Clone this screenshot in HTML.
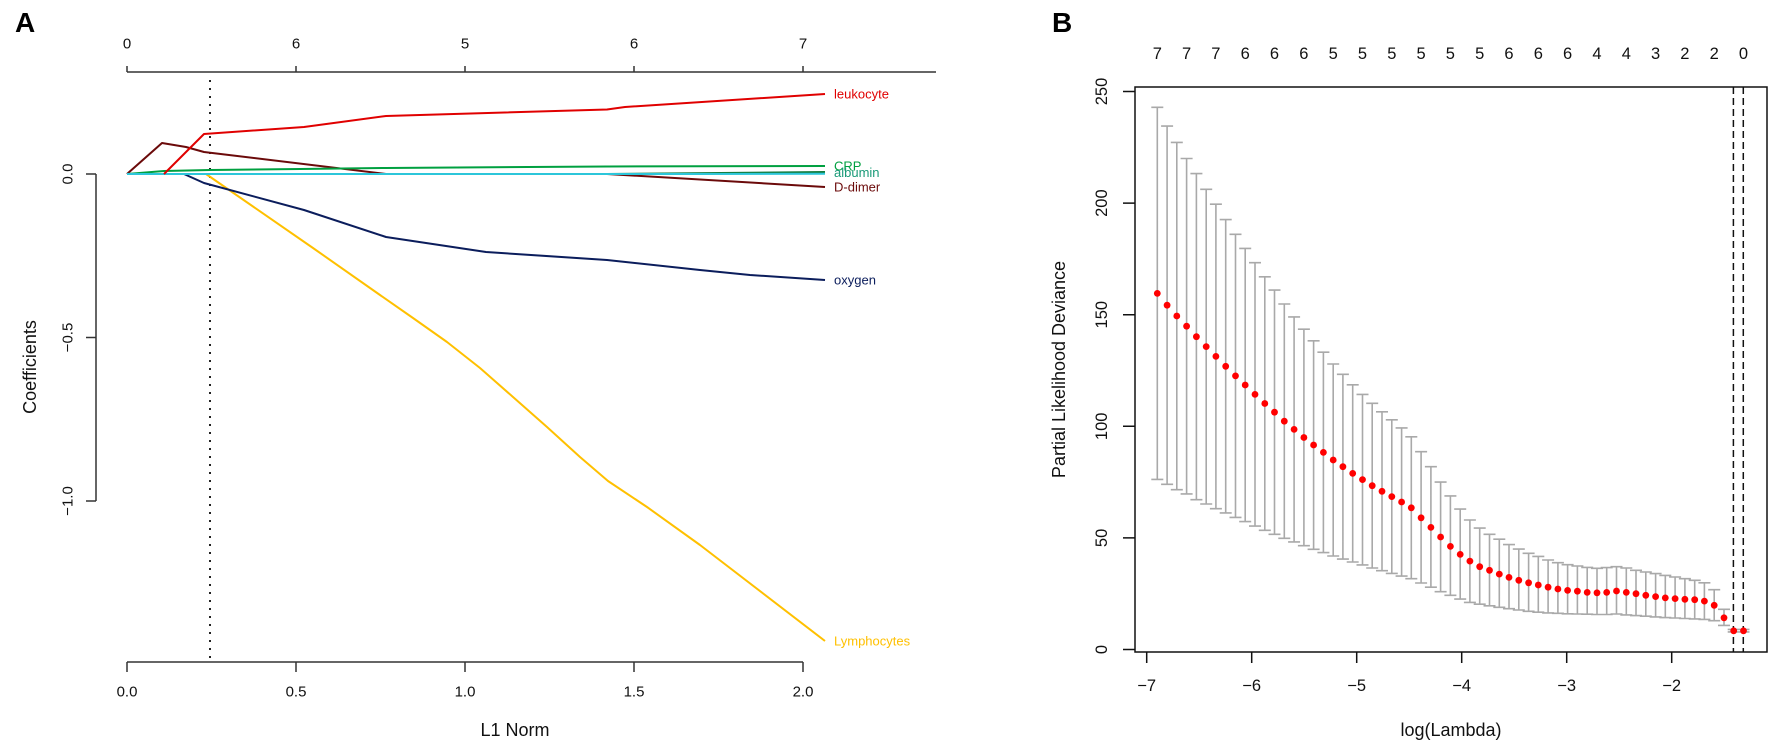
<!DOCTYPE html>
<html><head><meta charset="utf-8"><style>
html,body{margin:0;padding:0;background:#fff;}
svg{display:block;font-family:"Liberation Sans",Arial,sans-serif;}
</style></head><body>
<svg width="1772" height="742" viewBox="0 0 1772 742" xmlns="http://www.w3.org/2000/svg">
<rect width="1772" height="742" fill="#fff"/>

<!-- ================= PANEL A ================= -->
<text x="15" y="32" font-size="28" font-weight="bold" fill="#000">A</text>

<!-- top axis -->
<g stroke="#333" stroke-width="1.5" fill="none">
<path d="M127 72H936"/>
<path d="M127 72V66M296 72V66M465 72V66M634 72V66M803 72V66"/>
<!-- bottom axis -->
<path d="M127 662H803"/>
<path d="M127 662V672M296 662V672M465 662V672M634 662V672M803 662V672"/>
<!-- left axis -->
<path d="M96 174V501"/>
<path d="M86 174H96M86 337.5H96M86 501H96"/>
</g>
<g font-size="15" fill="#111" text-anchor="middle" dominant-baseline="central">
<text x="127" y="44">0</text>
<text x="296" y="44">6</text>
<text x="465" y="44">5</text>
<text x="634" y="44">6</text>
<text x="803" y="44">7</text>
<text x="127" y="692">0.0</text>
<text x="296" y="692">0.5</text>
<text x="465" y="692">1.0</text>
<text x="634" y="692">1.5</text>
<text x="803" y="692">2.0</text>
<text x="68" y="174" transform="rotate(-90 68 174)">0.0</text>
<text x="68" y="337.5" transform="rotate(-90 68 337.5)">−0.5</text>
<text x="68" y="501" transform="rotate(-90 68 501)">−1.0</text>
</g>
<g font-size="18" fill="#111" text-anchor="middle" dominant-baseline="central">
<text x="515" y="730">L1 Norm</text>
<text x="30" y="367" transform="rotate(-90 30 367)">Coefficients</text>
</g>

<!-- dotted vertical -->
<path d="M210 80V662" stroke="#222" stroke-width="2" stroke-dasharray="2 6" fill="none"/>

<!-- coefficient paths -->
<g fill="none" stroke-width="2" stroke-linejoin="round">
<polyline stroke="#FFC000" points="206,174 313,248 380,295 413,318 447,342 480,368 513,397 547,427 580,457 608,481 647,507 700,545 825,641"/>
<polyline stroke="#0B1D5C" points="127,174 184,174 204,183 304,210 386,237 486,252 607,260 700,270 750,275 825,280"/>
<polyline stroke="#6B0A0A" points="127,174 162,143 186,147 204,152 386,174 607,174 825,187"/>
<polyline stroke="#00A040" points="127,174 164,171 210,170 300,169 386,168 607,166.5 825,166"/>
<polyline stroke="#137A3A" points="127,174 607,174 825,172"/>
<polyline stroke="#2CC6DA" points="127,174 700,174 825,173.7"/>
<polyline stroke="#E00000" points="164,174 204,134 304,127 386,116 607,109.5 625,107 825,94"/>
</g>
<g font-size="13" dominant-baseline="central">
<text x="834" y="94" fill="#E00000">leukocyte</text>
<text x="834" y="166" fill="#00A040">CRP</text>
<text x="834" y="172.5" fill="#1A9A78">albumin</text>
<text x="834" y="187" fill="#6B0A0A">D-dimer</text>
<text x="834" y="280" fill="#0B1D5C">oxygen</text>
<text x="834" y="641" fill="#FFC000">Lymphocytes</text>
</g>

<!-- ================= PANEL B ================= -->
<text x="1052" y="32" font-size="28" font-weight="bold" fill="#000">B</text>

<g font-size="16.5" fill="#111" text-anchor="middle" dominant-baseline="central">
<text x="1157.3" y="54">7</text>
<text x="1186.6" y="54">7</text>
<text x="1215.9" y="54">7</text>
<text x="1245.2" y="54">6</text>
<text x="1274.5" y="54">6</text>
<text x="1303.9" y="54">6</text>
<text x="1333.2" y="54">5</text>
<text x="1362.5" y="54">5</text>
<text x="1391.8" y="54">5</text>
<text x="1421.1" y="54">5</text>
<text x="1450.4" y="54">5</text>
<text x="1479.7" y="54">5</text>
<text x="1509" y="54">6</text>
<text x="1538.3" y="54">6</text>
<text x="1567.6" y="54">6</text>
<text x="1597" y="54">4</text>
<text x="1626.3" y="54">4</text>
<text x="1655.6" y="54">3</text>
<text x="1684.9" y="54">2</text>
<text x="1714.2" y="54">2</text>
<text x="1743.5" y="54">0</text>

<text x="1146.7" y="686">−7</text>
<text x="1251.7" y="686">−6</text>
<text x="1356.7" y="686">−5</text>
<text x="1461.7" y="686">−4</text>
<text x="1566.7" y="686">−3</text>
<text x="1671.7" y="686">−2</text>

<text x="1102" y="649.5" transform="rotate(-90 1102 649.5)">0</text>
<text x="1102" y="537.9" transform="rotate(-90 1102 537.9)">50</text>
<text x="1102" y="426.3" transform="rotate(-90 1102 426.3)">100</text>
<text x="1102" y="314.7" transform="rotate(-90 1102 314.7)">150</text>
<text x="1102" y="203.1" transform="rotate(-90 1102 203.1)">200</text>
<text x="1102" y="91.5" transform="rotate(-90 1102 91.5)">250</text>
</g>
<g font-size="18" fill="#111" text-anchor="middle" dominant-baseline="central">
<text x="1451" y="730">log(Lambda)</text>
<text x="1059" y="369.5" transform="rotate(-90 1059 369.5)">Partial Likelihood Deviance</text>
</g>

<!-- axes ticks -->
<g stroke="#111" stroke-width="1.5" fill="none">
<path d="M1123 649.5H1135M1123 537.9H1135M1123 426.3H1135M1123 314.7H1135M1123 203.1H1135M1123 91.5H1135"/>
<path d="M1146.7 652V663M1251.7 652V663M1356.7 652V663M1461.7 652V663M1566.7 652V663M1671.7 652V663"/>
</g>

<!-- error bars -->
<path fill="none" stroke="#A9A9A9" stroke-width="1.6" d="
M1157.3 107.3V479.4M1151.3 107.3h12M1151.3 479.4h12
M1167.1 126.1V484.3M1161.1 126.1h12M1161.1 484.3h12
M1176.8 142.4V489.7M1170.8 142.4h12M1170.8 489.7h12
M1186.6 158.5V493.9M1180.6 158.5h12M1180.6 493.9h12
M1196.4 173.6V499.7M1190.4 173.6h12M1190.4 499.7h12
M1206.2 189.3V504M1200.2 189.3h12M1200.2 504h12
M1215.9 204.2V508.7M1209.9 204.2h12M1209.9 508.7h12
M1225.7 219.6V512.9M1219.7 219.6h12M1219.7 512.9h12
M1235.5 234.3V517.4M1229.5 234.3h12M1229.5 517.4h12
M1245.2 248.4V521.6M1239.2 248.4h12M1239.2 521.6h12
M1255 262.7V526.1M1249 262.7h12M1249 526.1h12
M1264.8 276.8V530.3M1258.8 276.8h12M1258.8 530.3h12
M1274.5 290.1V534.3M1268.5 290.1h12M1268.5 534.3h12
M1284.3 304V538.3M1278.3 304h12M1278.3 538.3h12
M1294.1 316.9V541.9M1288.1 316.9h12M1288.1 541.9h12
M1303.9 329.2V545.7M1297.9 329.2h12M1297.9 545.7h12
M1313.6 340.8V549.3M1307.6 340.8h12M1307.6 549.3h12
M1323.4 352.2V552.6M1317.4 352.2h12M1317.4 552.6h12
M1333.2 364V556M1327.2 364h12M1327.2 556h12
M1342.9 374.3V559.1M1336.9 374.3h12M1336.9 559.1h12
M1352.7 384.8V562M1346.7 384.8h12M1346.7 562h12
M1362.5 394.4V564.9M1356.5 394.4h12M1356.5 564.9h12
M1372.2 403.3V568M1366.2 403.3h12M1366.2 568h12
M1382 411.8V570.7M1376 411.8h12M1376 570.7h12
M1391.8 419.8V573.4M1385.8 419.8h12M1385.8 573.4h12
M1401.6 427.9V576.1M1395.6 427.9h12M1395.6 576.1h12
M1411.3 436.8V578.7M1405.3 436.8h12M1405.3 578.7h12
M1421.1 451.7V583M1415.1 451.7h12M1415.1 583h12
M1430.9 466.7V587.2M1424.9 466.7h12M1424.9 587.2h12
M1440.6 482.1V591.7M1434.6 482.1h12M1434.6 591.7h12
M1450.4 495.9V595.3M1444.4 495.9h12M1444.4 595.3h12
M1460.2 509.1V599.1M1454.2 509.1h12M1454.2 599.1h12
M1469.9 520V602.4M1463.9 520h12M1463.9 602.4h12
M1479.7 528.1V604.2M1473.7 528.1h12M1473.7 604.2h12
M1489.5 534.3V605.8M1483.5 534.3h12M1483.5 605.8h12
M1499.3 539.2V607.3M1493.3 539.2h12M1493.3 607.3h12
M1509 544.6V608.7M1503 544.6h12M1503 608.7h12
M1518.8 549.1V610M1512.8 549.1h12M1512.8 610h12
M1528.6 553.3V611.3M1522.6 553.3h12M1522.6 611.3h12
M1538.3 556.4V612.2M1532.3 556.4h12M1532.3 612.2h12
M1548.1 560V612.9M1542.1 560h12M1542.1 612.9h12
M1557.9 562.7V613.3M1551.9 562.7h12M1551.9 613.3h12
M1567.6 564.7V613.8M1561.6 564.7h12M1561.6 613.8h12
M1577.4 566V614M1571.4 566h12M1571.4 614h12
M1587.2 567.4V614.2M1581.2 567.4h12M1581.2 614.2h12
M1597 568.3V614.5M1591 568.3h12M1591 614.5h12
M1606.7 567.6V614.5M1600.7 567.6h12M1600.7 614.5h12
M1616.5 566.7V614M1610.5 566.7h12M1610.5 614h12
M1626.3 568V614.9M1620.3 568h12M1620.3 614.9h12
M1636 570.3V615.6M1630 570.3h12M1630 615.6h12
M1645.8 572V616.2M1639.8 572h12M1639.8 616.2h12
M1655.6 573.6V616.9M1649.6 573.6h12M1649.6 616.9h12
M1665.3 575.4V617.6M1659.3 575.4h12M1659.3 617.6h12
M1675.1 577V618M1669.1 577h12M1669.1 618h12
M1684.9 578.7V618.5M1678.9 578.7h12M1678.9 618.5h12
M1694.7 580.3V618.9M1688.7 580.3h12M1688.7 618.9h12
M1704.4 582.8V619.4M1698.4 582.8h12M1698.4 619.4h12
M1714.2 589.7V620.7M1708.2 589.7h12M1708.2 620.7h12
M1724 609.3V625.4M1718 609.3h12M1718 625.4h12
M1733.7 629.4V631.9M1727.7 629.4h12M1727.7 631.9h12
M1743.5 629.4V631.9M1737.5 629.4h12M1737.5 631.9h12"/>

<!-- dashed lambda lines -->
<path d="M1733.4 87V652M1743.3 87V652" stroke="#111" stroke-width="1.5" stroke-dasharray="7 4" fill="none"/>

<!-- mean points -->
<g fill="#FF0000">
<circle cx="1157.3" cy="293.4" r="3.4"/>
<circle cx="1167.1" cy="305.2" r="3.4"/>
<circle cx="1176.8" cy="316" r="3.4"/>
<circle cx="1186.6" cy="326.2" r="3.4"/>
<circle cx="1196.4" cy="336.7" r="3.4"/>
<circle cx="1206.2" cy="346.6" r="3.4"/>
<circle cx="1215.9" cy="356.4" r="3.4"/>
<circle cx="1225.7" cy="366.3" r="3.4"/>
<circle cx="1235.5" cy="375.9" r="3.4"/>
<circle cx="1245.2" cy="385" r="3.4"/>
<circle cx="1255" cy="394.4" r="3.4"/>
<circle cx="1264.8" cy="403.5" r="3.4"/>
<circle cx="1274.5" cy="412.2" r="3.4"/>
<circle cx="1284.3" cy="421.2" r="3.4"/>
<circle cx="1294.1" cy="429.4" r="3.4"/>
<circle cx="1303.9" cy="437.5" r="3.4"/>
<circle cx="1313.6" cy="445" r="3.4"/>
<circle cx="1323.4" cy="452.4" r="3.4"/>
<circle cx="1333.2" cy="460" r="3.4"/>
<circle cx="1342.9" cy="466.7" r="3.4"/>
<circle cx="1352.7" cy="473.4" r="3.4"/>
<circle cx="1362.5" cy="479.6" r="3.4"/>
<circle cx="1372.2" cy="485.7" r="3.4"/>
<circle cx="1382" cy="491.3" r="3.4"/>
<circle cx="1391.8" cy="496.6" r="3.4"/>
<circle cx="1401.6" cy="502" r="3.4"/>
<circle cx="1411.3" cy="507.8" r="3.4"/>
<circle cx="1421.1" cy="517.8" r="3.4"/>
<circle cx="1430.9" cy="527.4" r="3.4"/>
<circle cx="1440.6" cy="537" r="3.4"/>
<circle cx="1450.4" cy="546.4" r="3.4"/>
<circle cx="1460.2" cy="554.4" r="3.4"/>
<circle cx="1469.9" cy="561.1" r="3.4"/>
<circle cx="1479.7" cy="566.7" r="3.4"/>
<circle cx="1489.5" cy="570.3" r="3.4"/>
<circle cx="1499.3" cy="574.1" r="3.4"/>
<circle cx="1509" cy="577.4" r="3.4"/>
<circle cx="1518.8" cy="580.3" r="3.4"/>
<circle cx="1528.6" cy="582.8" r="3.4"/>
<circle cx="1538.3" cy="585" r="3.4"/>
<circle cx="1548.1" cy="587.2" r="3.4"/>
<circle cx="1557.9" cy="589" r="3.4"/>
<circle cx="1567.6" cy="590.4" r="3.4"/>
<circle cx="1577.4" cy="591.2" r="3.4"/>
<circle cx="1587.2" cy="592.4" r="3.4"/>
<circle cx="1597" cy="592.8" r="3.4"/>
<circle cx="1606.7" cy="592.4" r="3.4"/>
<circle cx="1616.5" cy="591" r="3.4"/>
<circle cx="1626.3" cy="592.4" r="3.4"/>
<circle cx="1636" cy="593.7" r="3.4"/>
<circle cx="1645.8" cy="595.3" r="3.4"/>
<circle cx="1655.6" cy="596.6" r="3.4"/>
<circle cx="1665.3" cy="597.9" r="3.4"/>
<circle cx="1675.1" cy="598.6" r="3.4"/>
<circle cx="1684.9" cy="599.3" r="3.4"/>
<circle cx="1694.7" cy="599.7" r="3.4"/>
<circle cx="1704.4" cy="601.1" r="3.4"/>
<circle cx="1714.2" cy="605.3" r="3.4"/>
<circle cx="1724" cy="617.8" r="3.4"/>
<circle cx="1733.7" cy="630.8" r="3.4"/>
<circle cx="1743.5" cy="630.8" r="3.4"/>
</g>

<!-- box -->
<rect x="1135" y="87" width="632" height="565" fill="none" stroke="#111" stroke-width="1.5"/>
</svg>
</body></html>
